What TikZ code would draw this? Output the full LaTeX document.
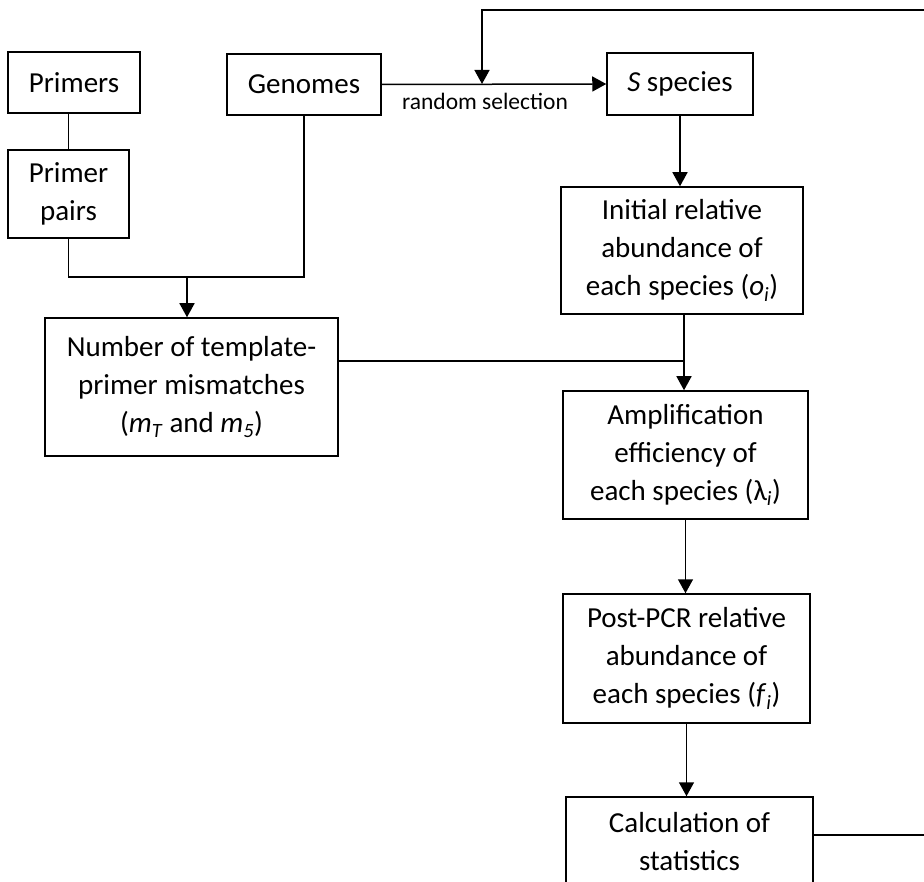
\documentclass[tikz,border=0pt]{standalone}
\usepackage{fontspec}
\setmainfont{Carlito}
\usetikzlibrary{arrows.meta}
\newcommand{\ital}[1]{\textit{#1}}
\newcommand{\isub}[1]{\textsubscript{\textit{#1}}}
\tikzset{
  box/.style={draw, line width=1.5pt, align=center, inner sep=0pt,
    font=\fontsize{29}{38}\selectfont},
  link/.style={line width=1.5pt},
  >={Triangle[length=14pt,width=15pt]},
}

\begin{document}
\begin{tikzpicture}[x=1pt,y=-1pt]
    \clip (0,0) rectangle (924,882);
    \node[box, minimum width=132pt, minimum height=61pt] (primers) at (74,82.5) {Primers};
    \node[box, minimum width=121pt, minimum height=88pt] (ppairs) at (68.5,194) {Primer\\pairs};
    \node[box, minimum width=154pt, minimum height=61pt] (genomes) at (304,84.5) {Genomes};
    \node[box, minimum width=146pt, minimum height=62pt] (sspec) at (680,84) {\ital{S} species};
    \node[box, minimum width=242pt, minimum height=127pt] (init) at (682,250.5) {Initial relative\\abundance of\\each species (\ital{o}\isub{i})};
    \node[box, minimum width=293pt, minimum height=138pt] (num) at (191.5,387) {Number of template-\\primer mismatches\\(\ital{m}\isub{T} and \ital{m}\isub{5})};
    \node[box, minimum width=245pt, minimum height=128pt] (amp) at (685.5,455) {Amplification\\efficiency of\\each species (λ\isub{i})};
    \node[box, minimum width=247pt, minimum height=129pt] (post) at (686.5,658.5) {Post-PCR relative\\abundance of\\each species (\ital{f}\isub{i})};
    \node[box, minimum width=247pt, minimum height=90pt] (calc) at (689.5,842) {Calculation of\\statistics};
    \coordinate (pj) at (187,277);
    \coordinate (mjoin) at (684,361);
    \coordinate (loopin) at (482,84);
    \draw[link] (ppairs.north) -- (ppairs.north |- primers.south);
    \draw[link] (ppairs.south) |- (genomes.south |- pj) -- (genomes.south);
    \draw[link,->] (pj) -- (num.north -| pj);
    \draw[link,->] (genomes.east) -- (sspec.west)
        node[pos=0.46, below=5pt, font=\fontsize{23.5}{28}\selectfont] {random selection};
    \draw[link,->] (sspec.south) -- (sspec.south |- init.north);
    \draw[link] (num.east |- mjoin) -- (mjoin);
    \draw[link,->] (init.south -| mjoin) -- (amp.north -| mjoin);
    \draw[link,->] (amp.south) -- (amp.south |- post.north);
    \draw[link,->] (post.south) -- (post.south |- calc.north);
    \draw[link,->] (calc.east |- 0,835) -- (950,835) -- (950,10) -| (loopin);
\end{tikzpicture}
\end{document}
